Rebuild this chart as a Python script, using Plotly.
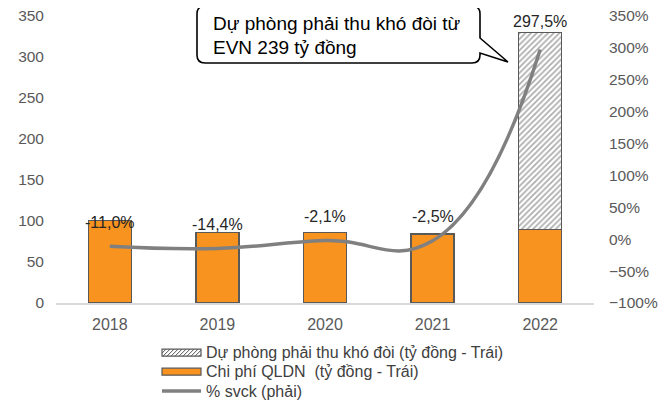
import plotly.graph_objects as go

# ---- data ----
years = ["2018", "2019", "2020", "2021", "2022"]
chi_phi_qldn = [101, 86, 86, 84, 90]          # tỷ đồng (left)
du_phong = [0, 0, 0, 0, 240]                  # tỷ đồng (left)
svck = [-11.0, -14.4, -2.1, -2.5, 297.5]      # % (right)
label_shift = [24, 24, 24, 24, 28]

# ---- geometry: target window pixels; page body has an 8px margin ----
OFF = 8
WIN_W, WIN_H = 669, 405
W, H = WIN_W - OFF, WIN_H - OFF
PL, PR, PT, PB = 56, 594, 16, 303          # plot area in window pixels
ML, MT = PL - OFF, PT - OFF
PW, PH = PR - PL, PB - PT
MR, MB = W - ML - PW, H - MT - PH

def px(x):
    return (x - PL) / PW

def py(y):
    return (PB - y) / PH

ORANGE = "#F7931E"
EDGE = "#595959"
GREY_LINE = "#808080"
TICK = "#595959"
HATCH = "#555555"
FONT = "Liberation Sans, Arial, sans-serif"

fig = go.Figure()
fig.add_trace(go.Bar(
    x=years, y=chi_phi_qldn, name="Chi phí QLDN  (tỷ đồng - Trái)",
    marker=dict(color=ORANGE, line=dict(color=EDGE, width=1.3)),
    width=0.4, yaxis="y", showlegend=False,
))
fig.add_trace(go.Bar(
    x=years, y=du_phong, name="Dự phòng phải thu khó đòi (tỷ đồng - Trái)",
    marker=dict(color="white", line=dict(color=EDGE, width=1.3),
                pattern=dict(shape="/", size=4, solidity=0.4,
                             fgcolor=HATCH, bgcolor="white")),
    width=0.4, yaxis="y", showlegend=False,
))
fig.add_trace(go.Scatter(
    x=years, y=svck, name="% svck (phải)", mode="lines",
    line=dict(color=GREY_LINE, width=3.5, shape="spline", smoothing=1.3),
    yaxis="y2", showlegend=False,
))

annotations = []
for i, (v, s) in enumerate(zip(svck, label_shift)):
    annotations.append(dict(
        x=i, y=v, xref="x", yref="y2", yshift=s,
        text=f"{v:.1f}%".replace(".", ","), showarrow=False,
        font=dict(family=FONT, size=16, color="#262626"),
    ))

# ---- callout ----
x0, x1, y0, y1, r = 197, 480, 6, 63, 8
tail_a, tail_b, tip = 38, 53, (508, 62)
def P(x, y):
    return f"{px(x):.5f},{py(y):.5f}"
path = (f"M{P(x0 + r, y0)} L{P(x1 - r, y0)} Q{P(x1, y0)} {P(x1, y0 + r)} "
        f"L{P(x1, tail_a)} L{P(*tip)} L{P(x1, tail_b)} L{P(x1, y1 - r)} "
        f"Q{P(x1, y1)} {P(x1 - r, y1)} L{P(x0 + r, y1)} Q{P(x0, y1)} {P(x0, y1 - r)} "
        f"L{P(x0, y0 + r)} Q{P(x0, y0)} {P(x0 + r, y0)} Z")
shapes = [dict(type="path", xref="paper", yref="paper", path=path,
               line=dict(color="black", width=1.6), fillcolor="white", layer="above")]

callout_lines = ["Dự phòng phải thu khó đòi từ", "EVN 239 tỷ đồng"]
for i, t in enumerate(callout_lines):
    annotations.append(dict(
        x=px(211), y=py(23 + 25 * i), xref="paper", yref="paper",
        xanchor="left", yanchor="middle", text=t, showarrow=False,
        font=dict(family=FONT, size=19, color="black"),
    ))

# ---- custom legend ----
lx0, lx1 = 162, 201
leg_items = ["Dự phòng phải thu khó đòi (tỷ đồng - Trái)",
             "Chi phí QLDN  (tỷ đồng - Trái)",
             "% svck (phải)"]
leg_y = [352.7, 371.7, 391]
hy0, hy1 = leg_y[0] - 3.5, leg_y[0] + 3.5
shapes.append(dict(type="rect", xref="paper", yref="paper",
                   x0=px(lx0), x1=px(lx1), y0=py(hy1), y1=py(hy0),
                   fillcolor="white", line=dict(color=EDGE, width=1.2)))
hpath = ""
h = hy1 - hy0
k = lx0 - h
while k < lx1:
    xs, ys = k, hy1
    xe, ye = k + h, hy0
    if xs < lx0:
        ys = hy1 - (lx0 - xs); xs = lx0
    if xe > lx1:
        ye = hy0 + (xe - lx1); xe = lx1
    if xe > xs:
        hpath += f"M{P(xs, ys)} L{P(xe, ye)} "
    k += 4
shapes.append(dict(type="path", xref="paper", yref="paper", path=hpath,
                   line=dict(color=HATCH, width=1)))
shapes.append(dict(type="rect", xref="paper", yref="paper",
                   x0=px(lx0), x1=px(lx1), y0=py(leg_y[1] + 3.5), y1=py(leg_y[1] - 3.5),
                   fillcolor=ORANGE, line=dict(color=EDGE, width=1.2)))
shapes.append(dict(type="line", xref="paper", yref="paper",
                   x0=px(lx0), x1=px(lx1), y0=py(leg_y[2]), y1=py(leg_y[2]),
                   line=dict(color=GREY_LINE, width=3.5)))
for t, yy in zip(leg_items, leg_y):
    annotations.append(dict(
        x=px(204), y=py(yy), xref="paper", yref="paper",
        xanchor="left", yanchor="middle", text=t, showarrow=False,
        font=dict(family=FONT, size=16, color="#404040"),
    ))

fig.update_layout(
    width=W, height=H,
    margin=dict(l=ML, r=MR, t=MT, b=MB, pad=0),
    paper_bgcolor="white", plot_bgcolor="white",
    barmode="stack", showlegend=False,
    font=dict(family=FONT, size=16, color=TICK),
    xaxis=dict(type="category", showgrid=False, showline=True,
               linecolor="#D9D9D9", linewidth=1.5, ticks="",
               tickfont=dict(size=16, color=TICK), ticklabelstandoff=6,
               range=[-0.5, 4.5]),
    yaxis=dict(range=[0, 350], dtick=50, showgrid=False, zeroline=False,
               showline=False, ticks="", tickfont=dict(size=15.5, color=TICK),
               ticklabelstandoff=11, automargin=False, ticklabeloverflow="allow"),
    yaxis2=dict(range=[-100, 350], dtick=50, overlaying="y", side="right",
                showgrid=False, zeroline=False, showline=False, ticks="",
                ticksuffix="%", tickfont=dict(size=15.5, color=TICK),
                ticklabelstandoff=14, automargin=False, ticklabeloverflow="allow"),
    annotations=annotations, shapes=shapes,
)

fig.write_html("out.html")
